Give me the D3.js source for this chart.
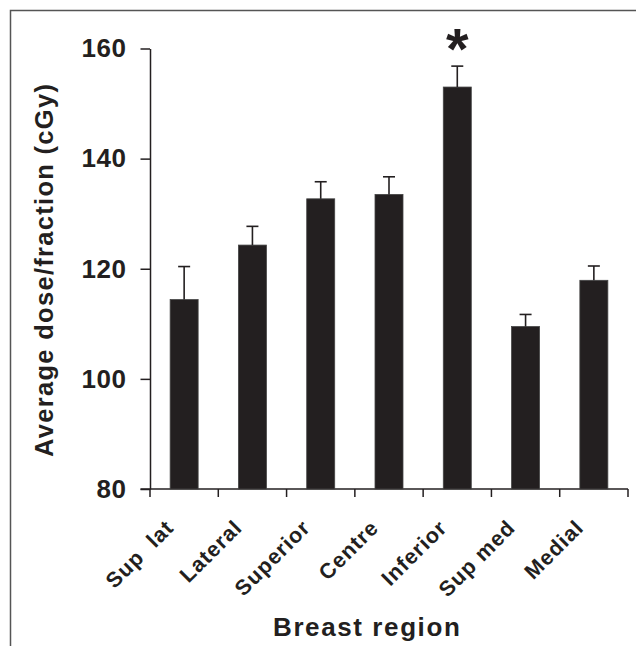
<!DOCTYPE html>
<html>
<head>
<meta charset="utf-8">
<script src="https://cdn.jsdelivr.net/npm/d3@7"></script>
<style>
  body { margin: 0; background: #fff; }
  text { font-family: "Liberation Sans", Arial, sans-serif; font-weight: bold; fill: #231f20; }
</style>
</head>
<body>
<div id="chart"></div>
<script>
// data
var categories = ["Sup  lat", "Lateral", "Superior", "Centre", "Inferior", "Sup med", "Medial"];
var means = [114.4, 124.3, 132.7, 133.5, 153.0, 109.5, 117.9];
var errors = [6.0, 3.4, 3.1, 3.2, 3.8, 2.2, 2.6];
var yTicks = [80, 100, 120, 140, 160];
var starred = ["Inferior"];

var svgWidth = 636;
var svgHeight = 646;

var svg = d3.select("#chart")
  .append("svg")
  .attr("width", svgWidth)
  .attr("height", svgHeight);

// frame around the figure (open on right and bottom)
svg.append("path")
  .attr("d", "M10.5," + svgHeight + "V10.5H" + svgWidth)
  .attr("fill", "none")
  .attr("stroke", "#555")
  .attr("stroke-width", 1.5);

var data = categories.map(function(c, i) {
  return { cat: c, mean: means[i], err: errors[i] };
});

// plot area edges (window.top is reserved, so prefixed names)
var plotLeft = 150, plotRight = 628, plotBottom = 489, plotTop = 48.5;

// band scale for the tick boundaries, and one for the bars
var xStep = d3.scaleBand()
  .domain(categories)
  .range([plotLeft, plotRight])
  .padding(0);

var xBar = d3.scaleBand()
  .domain(categories)
  .range([plotLeft, plotRight])
  .paddingInner(0.59)
  .paddingOuter(0.295);

var y = d3.scaleLinear()
  .domain([80, 160])
  .range([plotBottom, plotTop]);

var ink = "#231f20";

// y axis
var yAxis = svg.append("g")
  .attr("transform", "translate(" + plotLeft + ",0)")
  .call(d3.axisLeft(y).tickValues(yTicks).tickSize(9.5).tickPadding(14).tickSizeOuter(0));
yAxis.select(".domain").attr("stroke", ink).attr("stroke-width", 1.5);
yAxis.selectAll(".tick line").attr("stroke", ink).attr("stroke-width", 1.5);
yAxis.selectAll(".tick text")
  .attr("font-size", 26)
  .attr("letter-spacing", "0.5px")
  .attr("fill", ink);

// x axis line + ticks on band boundaries
var xAxis = svg.append("g");
xAxis.append("line")
  .attr("x1", plotLeft - 9.5)
  .attr("x2", plotRight)
  .attr("y1", plotBottom)
  .attr("y2", plotBottom)
  .attr("stroke", ink)
  .attr("stroke-width", 1.5);

var bounds = categories.map(function(c) { return xStep(c); }).concat([plotRight]);
xAxis.selectAll(".xtick")
  .data(bounds)
  .enter()
  .append("line")
  .attr("class", "xtick")
  .attr("x1", function(d) { return d; })
  .attr("x2", function(d) { return d; })
  .attr("y1", plotBottom)
  .attr("y2", plotBottom + 8)
  .attr("stroke", ink)
  .attr("stroke-width", 1.5);

// rotated category labels
xAxis.selectAll(".xlabel")
  .data(categories)
  .enter()
  .append("text")
  .attr("class", "xlabel")
  .attr("transform", function(d) {
    return "translate(" + (xStep(d) + xStep.bandwidth() / 2 - 9) + "," + 529 + ") rotate(-45)";
  })
  .attr("text-anchor", "end")
  .attr("font-size", 21.5)
  .attr("letter-spacing", "1px")
  .style("white-space", "pre")
  .text(function(d) { return d; });

// bars
svg.selectAll(".bar")
  .data(data)
  .enter()
  .append("rect")
  .attr("class", "bar")
  .attr("x", function(d) { return xBar(d.cat); })
  .attr("width", xBar.bandwidth())
  .attr("y", function(d) { return y(d.mean); })
  .attr("height", function(d) { return y(80) - y(d.mean); })
  .attr("fill", ink)
  .attr("stroke", "#444")
  .attr("stroke-width", 0.8);

// upper error bars
var eb = svg.selectAll(".err")
  .data(data)
  .enter()
  .append("g")
  .attr("class", "err")
  .attr("stroke", ink)
  .attr("stroke-width", 1.6);

eb.append("line")
  .attr("x1", function(d) { return xBar(d.cat) + xBar.bandwidth() / 2; })
  .attr("x2", function(d) { return xBar(d.cat) + xBar.bandwidth() / 2; })
  .attr("y1", function(d) { return y(d.mean); })
  .attr("y2", function(d) { return y(d.mean + d.err); });

eb.append("line")
  .attr("x1", function(d) { return xBar(d.cat) + xBar.bandwidth() / 2 - 6; })
  .attr("x2", function(d) { return xBar(d.cat) + xBar.bandwidth() / 2 + 6; })
  .attr("y1", function(d) { return y(d.mean + d.err); })
  .attr("y2", function(d) { return y(d.mean + d.err); });

// significance marker
svg.selectAll(".star")
  .data(data.filter(function(d) { return starred.indexOf(d.cat) >= 0; }))
  .enter()
  .append("text")
  .attr("class", "star")
  .attr("x", function(d) { return xBar(d.cat) + xBar.bandwidth() / 2; })
  .attr("y", function(d) { return y(d.mean + d.err) + 3; })
  .attr("text-anchor", "middle")
  .attr("font-size", 58)
  .text("*");

// axis titles
svg.append("text")
  .attr("transform", "translate(53,457) rotate(-90)")
  .attr("font-size", 25.5)
  .attr("letter-spacing", "1.3px")
  .text("Average dose/fraction (cGy)");

svg.append("text")
  .attr("x", 273)
  .attr("y", 636)
  .attr("font-size", 26)
  .attr("letter-spacing", "1.6px")
  .text("Breast region");
</script>
</body>
</html>
